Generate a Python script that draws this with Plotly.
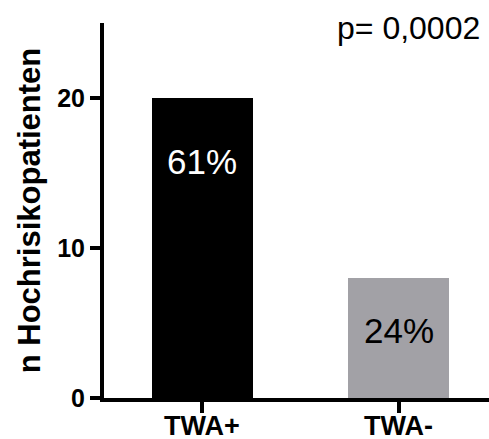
import plotly.graph_objects as go

categories = ["TWA+", "TWA-"]
values = [20, 8]
bar_colors = ["#000000", "#A2A1A6"]
pct_labels = ["61%", "24%"]
pct_label_y = [15.8, 4.5]
pct_label_colors = ["#FFFFFF", "#000000"]
p_text = "p= 0,0002"
y_title = "n Hochrisikopatienten"
y_ticks = [0, 10, 20]

FONT = "Liberation Sans, Arial, sans-serif"
L, R, T, B, W, H = 104, 0, 23, 41, 489, 439
PW, PH = W - L - R, H - T - B

fig = go.Figure()
fig.add_trace(go.Bar(
    x=[0, 1], y=values, width=0.515,
    marker=dict(color=bar_colors, line=dict(width=0)),
    hoverinfo="skip",
))

for i, (lab, ly, c) in enumerate(zip(pct_labels, pct_label_y, pct_label_colors)):
    fig.add_annotation(x=i, y=ly, text=lab, showarrow=False,
                       font=dict(family=FONT, size=35, color=c),
                       xanchor="center", yanchor="middle")

# category labels drawn just below the axis (closer than plotly's tick-label offset)
for i, cat in enumerate(categories):
    fig.add_annotation(x=i, y=0, xref="x", yref="y", text=cat, showarrow=False,
                       font=dict(family=FONT, size=27, color="black", weight="bold"),
                       xanchor="center", yanchor="middle", yshift=-28)

fig.add_annotation(xref="paper", yref="paper",
                   x=(482 - L) / PW, y=1 - (28 - T) / PH, text=p_text,
                   showarrow=False, font=dict(family=FONT, size=32, color="black"),
                   xanchor="right", yanchor="middle")

fig.update_layout(
    width=W, height=H,
    margin=dict(l=L, r=R, t=T, b=B, autoexpand=False),
    paper_bgcolor="white", plot_bgcolor="white",
    showlegend=False,
    bargap=0,
)

fig.update_xaxes(
    range=[-0.5, 1.46], automargin=False,
    tickmode="array", tickvals=[0, 1], ticktext=["", ""],
    showline=True, linecolor="black", linewidth=4,
    ticks="outside", ticklen=11, tickwidth=4, tickcolor="black",
    showgrid=False, zeroline=False, fixedrange=True,
)
fig.update_yaxes(
    range=[0, 25], automargin=False,
    tickmode="array", tickvals=y_ticks,
    showline=True, linecolor="black", linewidth=4,
    ticks="outside", ticklen=10, tickwidth=4, tickcolor="black",
    tickfont=dict(family=FONT, size=25, color="black", weight="bold"),
    title=dict(text=y_title, font=dict(family=FONT, size=31, color="black", weight="bold"), standoff=8),
    showgrid=False, zeroline=False, fixedrange=True,
)

fig.write_html("out.html", config={"displayModeBar": False},
               post_script="document.body.style.margin='0';document.body.style.overflow='hidden';")
